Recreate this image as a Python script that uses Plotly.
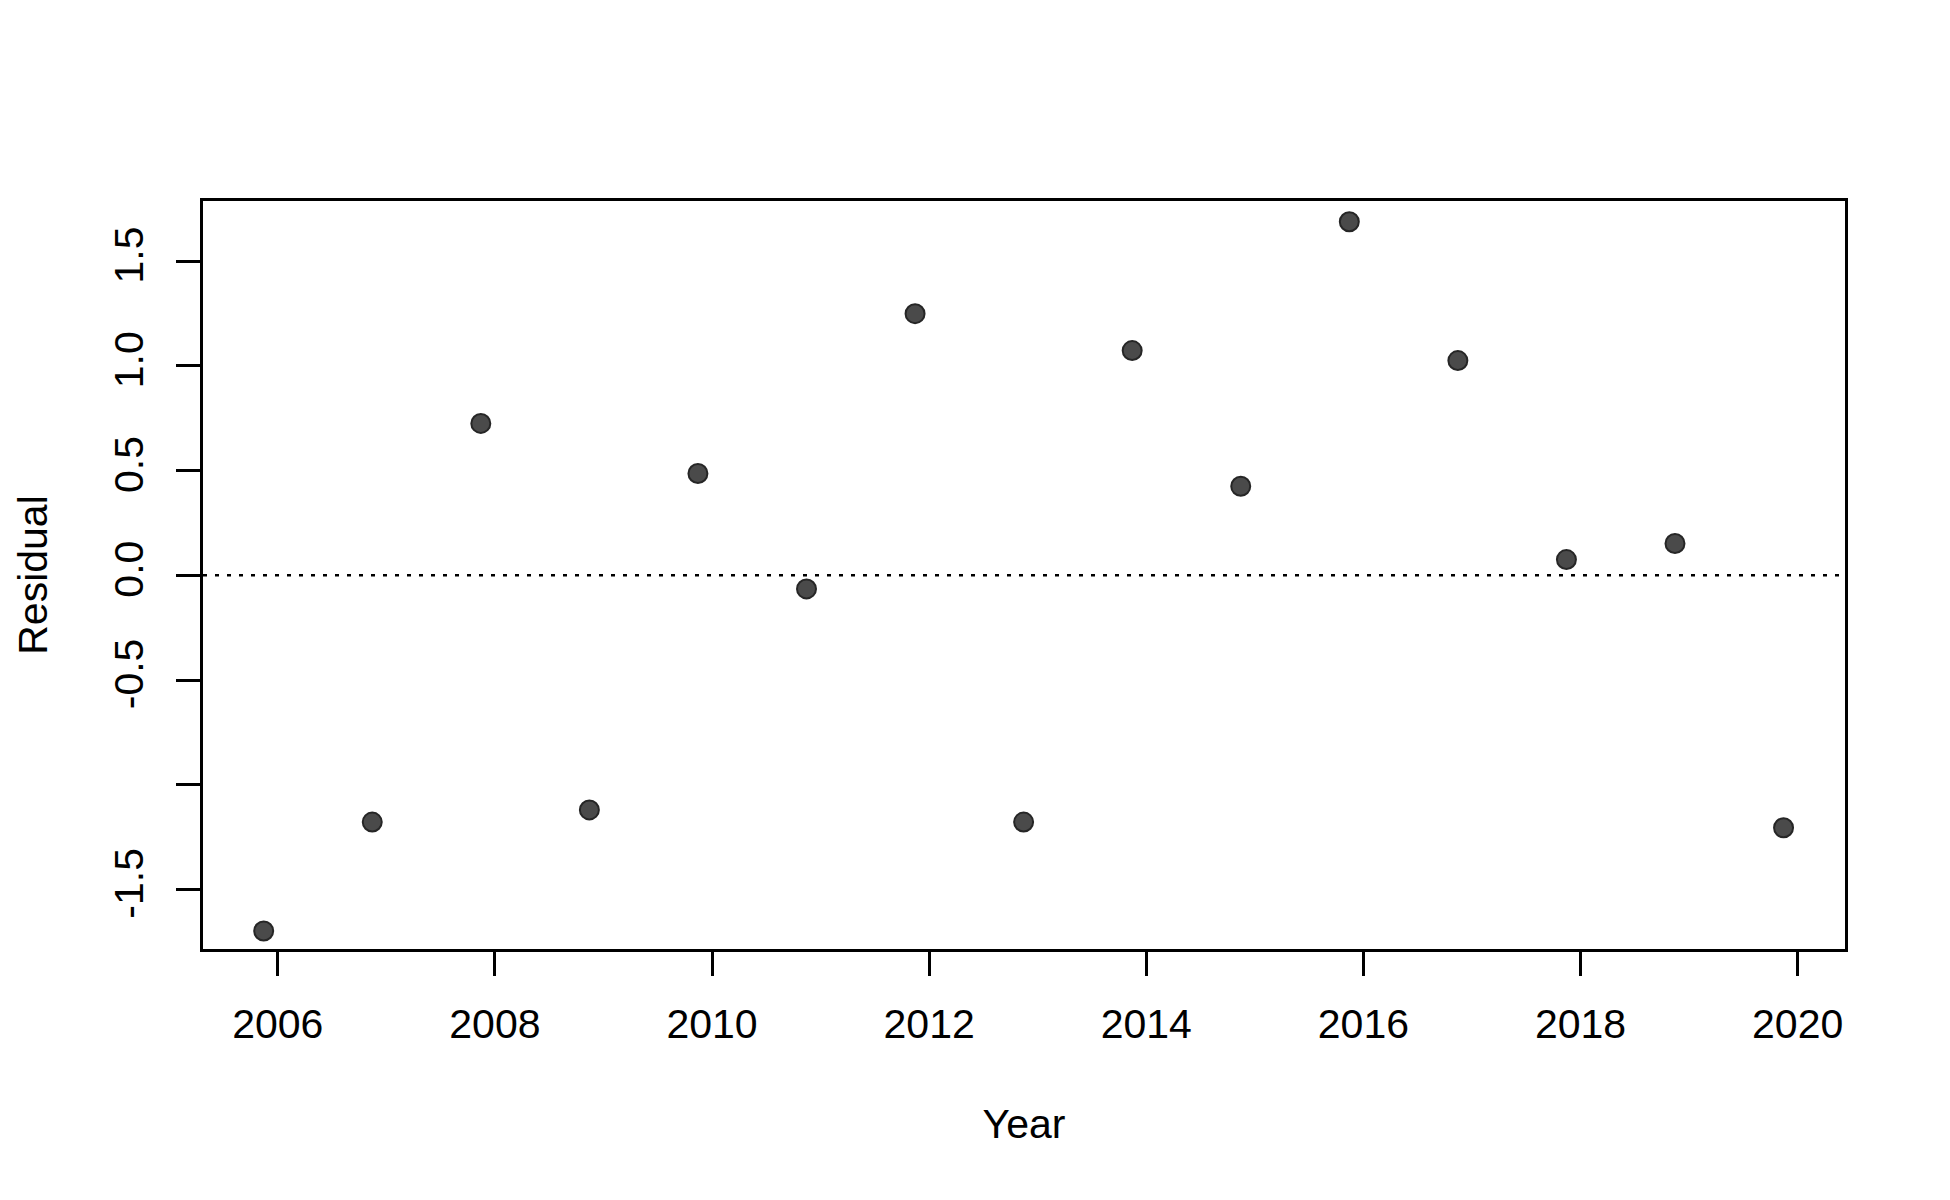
import plotly.graph_objects as go

# residuals by year
years = [2005.87, 2006.87, 2007.87, 2008.87, 2009.87, 2010.87, 2011.87, 2012.87,
         2013.87, 2014.87, 2015.87, 2016.87, 2017.87, 2018.87, 2019.87]
residuals = [-1.698, -1.178, 0.725, -1.120, 0.486, -0.065, 1.249, -1.178,
             1.073, 0.425, 1.688, 1.025, 0.075, 0.152, -1.205]

x_ticks = [2006, 2008, 2010, 2012, 2014, 2016, 2018, 2020]
y_ticks = [-1.5, -1.0, -0.5, 0.0, 0.5, 1.0, 1.5]
y_tick_text = ["-1.5", "", "-0.5", "0.0", "0.5", "1.0", "1.5"]

FONT = "Liberation Sans, Arial, sans-serif"

fig = go.Figure()

fig.add_trace(go.Scatter(
    x=years,
    y=residuals,
    mode="markers",
    marker=dict(size=19, color="#4a4a4a", line=dict(color="#262626", width=2)),
    showlegend=False,
))

# reference line at zero
fig.add_hline(y=0, line=dict(color="black", width=2.5, dash="4px,8px"))

# page body has an 8px margin, so the plot margins are shifted to compensate
fig.update_layout(
    width=1950,
    height=1200,
    margin=dict(l=195, r=113, t=193, b=259),
    plot_bgcolor="white",
    paper_bgcolor="white",
    font=dict(family=FONT, size=41, color="black"),
    xaxis=dict(
        range=[2005.311, 2020.436],
        tickvals=x_ticks,
        ticks="outside",
        ticklen=24,
        tickwidth=2.5,
        tickcolor="black",
        showline=True,
        linecolor="black",
        linewidth=2.5,
        mirror=True,
        showgrid=False,
        zeroline=False,
        ticklabelstandoff=13,
        title=dict(text="Year", standoff=64, font=dict(size=41)),
    ),
    yaxis=dict(
        range=[-1.784, 1.787],
        tickvals=y_ticks,
        ticktext=y_tick_text,
        tickangle=-90,
        ticks="outside",
        ticklen=24,
        tickwidth=2.5,
        tickcolor="black",
        showline=True,
        linecolor="black",
        linewidth=2.5,
        mirror=True,
        showgrid=False,
        zeroline=False,
        ticklabelstandoff=17,
        title=dict(text="Residual", standoff=46, font=dict(size=41)),
    ),
)

fig.write_html("out.html")
